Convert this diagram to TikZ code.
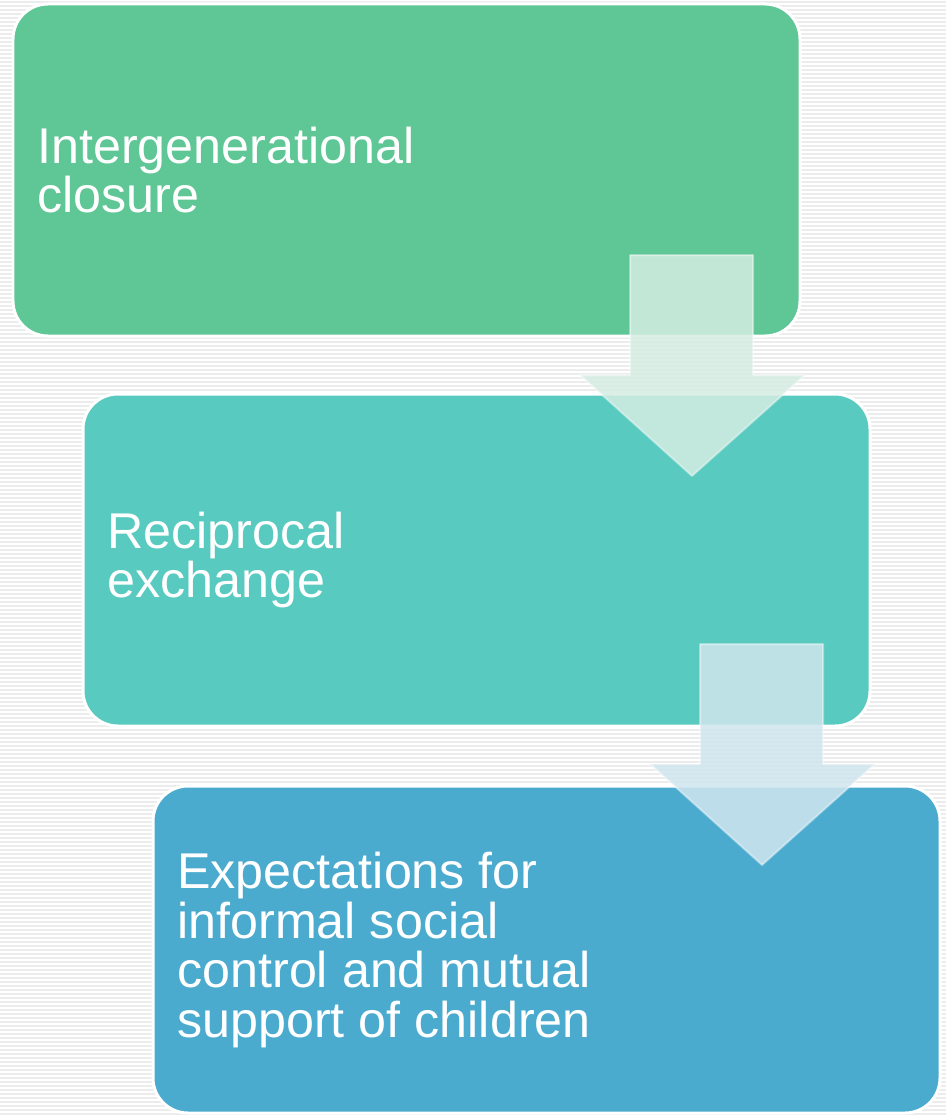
\documentclass[tikz,border=0pt]{standalone}
\usepackage{fontspec}
\setmainfont{Liberation Sans}
\definecolor{stepgreen}{RGB}{95,198,149}
\definecolor{stepteal}{RGB}{88,202,191}
\definecolor{stepblue}{RGB}{75,171,207}
\definecolor{arrowgreen}{RGB}{213,237,227}
\definecolor{arrowblue}{RGB}{208,230,238}
\definecolor{stripe}{RGB}{236,236,236}
\begin{document}
\begin{tikzpicture}[x=0.02cm,y=-0.02cm,line join=round,
  stepbox/.style={draw=white,line width=0.06cm,rounded corners=0.7cm},
  steptext/.style={anchor=west,align=left,inner sep=0pt,text=white,font=\fontsize{28.6}{28.4}\selectfont},
  downarrow/.style={draw=white,draw opacity=0.4,line width=0.04cm,fill opacity=0.85}]
\useasboundingbox (0,0) rectangle (946,1115);
% striped background
\fill[white] (0,0) rectangle (946,1115);
\foreach \y in {1,5,...,1115}
{
\fill[stripe] (0,\y) rectangle (946,\y+2);
}
% the three steps
\draw[stepbox,fill=stepgreen] (13,4) rectangle (800,336);
\node[steptext] (closure) at (37,170) {Intergenerational\\closure};
\draw[stepbox,fill=stepteal] (83,394) rectangle (870,726);
\node[steptext] (exchange) at (107,560) {Reciprocal\\exchange};
\draw[stepbox,fill=stepblue] (153,786) rectangle (940,1113);
\node[steptext] (control) at (177,950) {Expectations for\\informal social\\control and mutual\\support of children};
% arrows between the steps
\draw[downarrow,fill=arrowgreen] (630,255)--(753,255)--(753,375)--(805,375)--(692,476)--(580,375)--(630,375)--cycle;
\draw[downarrow,fill=arrowblue] (700,644)--(823,644)--(823,764)--(875,764)--(762,865)--(650,764)--(700,764)--cycle;
\end{tikzpicture}
\end{document}
